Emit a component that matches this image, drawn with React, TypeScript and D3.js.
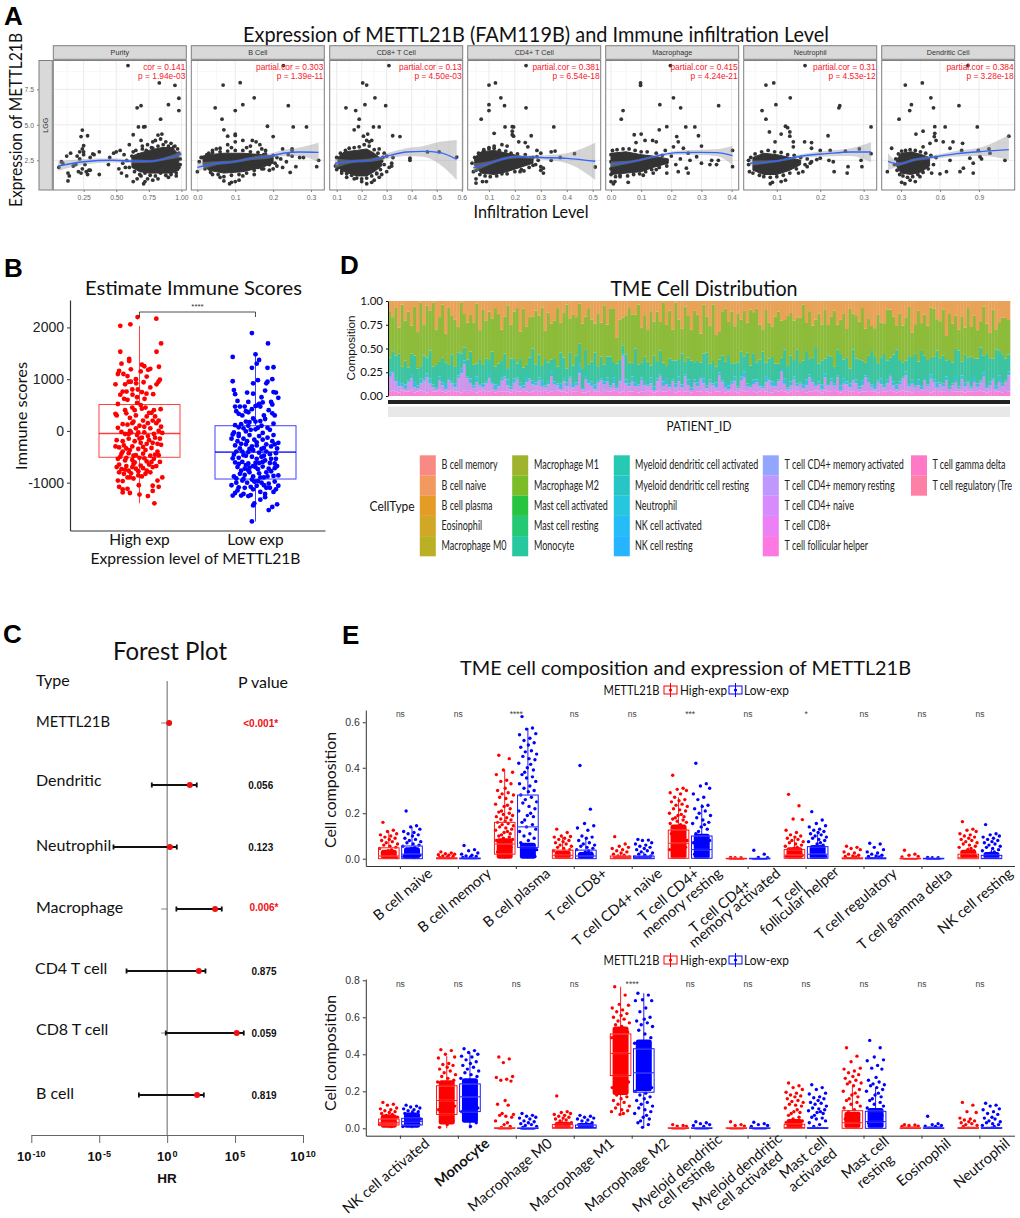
import * as d3 from 'd3';
import { useEffect, useRef } from 'react';

type Sel = d3.Selection<any, unknown, any, any>;

const SANS = 'Lato, sans-serif';
const ARIAL = '"Liberation Sans", Arial, sans-serif';

// Panel A: infiltration scatter
const facetNames = ['Purity', 'B Cell', 'CD8+ T Cell', 'CD4+ T Cell', 'Macrophage', 'Neutrophil', 'Dendritic Cell'];
const facetCor = ['cor = 0.141', 'partial.cor = 0.303', 'partial.cor = 0.13', 'partial.cor = 0.381', 'partial.cor = 0.415', 'partial.cor = 0.31', 'partial.cor = 0.384'];
const facetP = ['p = 1.94e-03', 'p = 1.39e-11', 'p = 4.50e-03', 'p = 6.54e-18', 'p = 4.24e-21', 'p = 4.53e-12', 'p = 3.28e-18'];
const facetTicks = [
  [0.25, 0.5, 0.75, 1], [0, 0.1, 0.2, 0.3], [0.1, 0.2, 0.3, 0.4, 0.5, 0.6], [0.1, 0.2, 0.3, 0.4, 0.5],
  [0, 0.1, 0.2, 0.3, 0.4], [0.1, 0.2, 0.3], [0.3, 0.6, 0.9],
];
const facetDomains = [[0.0174, 1.037], [-0.016, 0.335], [0.072, 0.604], [0.018, 0.531], [-0.0176, 0.4235], [0.0238, 0.33], [0.1515, 1.175]];
const facetLefts = [53.3, 191.3, 329.7, 467.7, 605.7, 743.7, 881.7];

const purityPts = [[.59,9.17],[.83,7.95],[.95,7.78],[.98,6.87],[.9,6.42],[.69,6.35],[.66,6.2],[.98,6],[.84,5.4],[.67,4.85],[.72,4.87],[.71,4.85],[.85,4.35],[.82,4.28],[.63,4.3],[.69,3.9],[.24,4.63],[.23,4.17],[.28,4.23],[.25,3.53],[.24,3.3],[.22,3.1],[.25,3.1],[.15,3],[.37,3.1],[.32,2.95],[.12,2.8],[.09,2.3],[.06,2],[.08,2.4],[.13,1.6],[.13,1.05],[.14,1.4],[.17,2.1],[.19,2.2],[.2,2.8],[.21,1.7],[.22,2.6],[.23,1.6],[.24,1.9],[.25,2.9],[.26,2.2],[.27,1.7],[.28,1.5],[.29,1.8],[.3,2.7],[.3,1.8],[.33,2.9],[.37,1.5],[.44,2.2],[.45,2.7],[.48,3],[.5,3.1],[.53,3.2],[.55,2.3],[.52,1.9],[.54,1.6],[.57,2],[.58,1.4],[.6,3.6],[.63,1],[.66,1.2],[.69,1.4],[.71,.85],[.72,1],[.74,1.2],[.78,1.1],[.63,3.1],[.7,3.5],[.74,3.6],[.78,3.8],[.8,3.9],[.84,4],[.88,3.8],[.92,3.7],[.95,3.5],[.77,3.4],[.98,2],[.96,1.4],[.9,1.3],[.82,1.2],[.6,2],[.62,2.8],[.64,1.7],[.65,3.2],[.67,2.9],[.68,1.5],[.7,3.3],[.72,1.6],[.73,3.2],[.76,1.45],[.78,3.35],[.8,1.4],[.82,3.5],[.84,1.6],[.86,3.6],[.88,1.45],[.9,3.5],[.92,1.5],[.94,3.45],[.96,1.6],[.97,3.3],[.99,2.2],[.99,2.6],[.98,3],[.58,2.5],[.56,2.9],[.66,2.1],[.95,1.8]];
const bCellPts = [[.227,9.17],[.113,7.97],[.068,7.8],[.15,6.9],[.1,6],[.047,6.2],[.12,6.42],[.24,6.35],[.065,5.4],[.185,4.9],[.253,4.85],[.288,4.85],[.07,4.65],[.1,4.35],[.1,4.25],[.08,4.2],[.145,3.9],[.155,3.8],[.2,4.17],[.165,3.6],[.12,3.9],[.1,3.8],[.25,3.3],[.25,3.2],[.225,3.3],[.28,2.7],[.27,2.7],[.25,2.8],[.32,2.5],[.315,2.05],[.245,1.65],[.26,2.05],[.225,2],[.205,2.3],[.2,1.9],[.19,1.8],[.21,2.7],[.18,3.2],[.17,3.3],[.19,2.5],[0,1.7],[.015,2.7],[.02,2.1],[.03,3],[.04,3.2],[.05,3.3],[.06,3.35],[.08,3.6],[.09,3.4],[.13,3.4],[.14,3.5],[.11,1.1],[.09,.95],[.1,1],[.085,.85],[.07,1.05],[.06,1.3],[.04,1.5],[.12,1.4],[.15,1.5],[.16,2],[.17,1.9],[.175,2.9],[.005,2.4],[.01,2.7],[.02,1.9],[.025,2.9],[.035,1.65],[.04,3.05],[.055,1.5],[.06,3.1],[.07,1.35],[.08,3.15],[.09,1.45],[.1,3.2],[.11,1.5],[.12,3.2],[.13,1.6],[.14,3.1],[.15,1.8],[.16,3.05],[.175,1.9],[.18,2.95],[.19,2.2],[.2,2.85],[.21,2.1],[.22,2.6],[.235,2.4],[.24,2.9],[.03,2.3],[.055,2.65]];
const cd8Pts = [[.309,9.17],[.204,7.95],[.22,7.8],[.253,6.9],[.213,6.42],[.296,6.35],[.137,6.2],[.176,6],[.19,5.4],[.187,4.87],[.17,4.65],[.247,4.85],[.27,4.85],[.224,4.35],[.324,4.23],[.353,4.17],[.207,4.2],[.24,3.9],[.22,3.9],[.23,3.8],[.27,3.3],[.29,3],[.3,2.8],[.325,2.7],[.32,2.3],[.32,2.1],[.393,2.65],[.393,2.5],[.463,3.09],[.51,3.09],[.58,2.73],[.1,1.85],[.11,2],[.12,1.6],[.14,1.3],[.17,1.2],[.2,1],[.22,.85],[.24,.95],[.25,1.1],[.27,1.3],[.28,1.5],[.26,1.6],[.3,1.7],[.31,2],[.095,2.1],[.1,2.7],[.105,2],[.115,3],[.12,1.75],[.135,3.2],[.14,1.55],[.15,3.35],[.16,1.45],[.17,3.4],[.18,1.25],[.19,3.45],[.2,1.2],[.21,3.6],[.22,1.25],[.23,3.5],[.24,1.4],[.25,3.25],[.26,1.55],[.265,3],[.275,1.85],[.285,2.7],[.29,2.2],[.28,2.45]];
const cd4Pts = [[.04,1.7],[.05,.9],[.05,1.2],[.075,1],[.09,1],[.07,5.4],[.1,6],[.1,6.42],[.1,7.8],[.125,7.95],[.146,6.9],[.16,6.35],[.162,4.85],[.12,4.4],[.195,4.85],[.195,4.2],[.243,9.17],[.243,6.2],[.19,4.87],[.19,4.55],[.19,4.3],[.263,4.23],[.35,4.85],[.215,3.8],[.24,3.75],[.25,3.45],[.285,3.2],[.3,3],[.355,3.15],[.34,3.1],[.34,2.5],[.375,2.7],[.43,2.97],[.51,2.03],[.3,2.05],[.31,1.95],[.31,1.6],[.3,1.8],[.27,2.15],[.235,1.75],[.22,1.7],[.26,2.65],[.285,2.75],[.1,3.3],[.12,3.5],[.08,3.2],[.15,3.6],[.17,3.5],[.035,2.3],[.045,2.7],[.05,1.8],[.06,3],[.065,1.5],[.08,3.25],[.085,1.4],[.1,3.4],[.105,1.35],[.12,3.35],[.13,1.4],[.14,3.2],[.15,1.55],[.165,3.15],[.17,1.55],[.185,3],[.2,1.7],[.21,2.95],[.225,1.85],[.24,2.9],[.255,2],[.27,2.7],[.28,2.2],[.29,2.5]];
const macroPts = [[.197,9.17],[.098,7.95],[.098,7.78],[.207,6.9],[.162,6.42],[.231,6.2],[.357,6.35],[.04,6],[.034,5.4],[.185,4.87],[.16,4.65],[.248,4.85],[.278,4.85],[.077,4.3],[.1,4.35],[.218,4.17],[.29,4.23],[.138,3.9],[.083,3.75],[.113,3.9],[.15,3.8],[.223,3.8],[.3,3.5],[.207,3.45],[.24,3.35],[.18,3.2],[.256,3],[.262,2.5],[.284,2.75],[.3,2.3],[.334,2.5],[.356,2.5],[.35,2.2],[.403,3.2],[.403,2.05],[.328,2.2],[.223,1.7],[.25,1.95],[.256,1.6],[.185,1.6],[.15,1.85],[.14,1.6],[.107,1.45],[.057,.95],[.03,1.35],[.013,1],[0,1],[.008,.85],[0,1.5],[0,1.9],[0,2.4],[0,2.9],[.005,3.2],[.015,1.35],[.02,3.25],[.03,1.45],[.04,3.3],[.055,1.4],[.06,3.3],[.075,1.5],[.08,3.2],[.095,1.55],[.1,3.1],[.115,1.7],[.12,3.1],[.135,1.85],[.15,3],[.16,2],[.17,2.85],[.185,2.1],[.2,2.8],[.215,2.2],[.23,2.6]];
const neutroPts = [[.165,9.17],[.093,7.95],[.075,7.8],[.131,6.9],[.098,6.42],[.066,6],[.075,5.4],[.245,6.35],[.243,6.2],[.12,4.9],[.125,4.8],[.13,4.5],[.317,4.85],[.11,4.35],[.083,4.5],[.218,4.23],[.13,4.2],[.138,3.8],[.164,3.8],[.18,3.75],[.096,3.8],[.138,3.45],[.18,3.35],[.2,3.2],[.223,3.2],[.258,3.15],[.29,3.3],[.317,2.97],[.294,2.5],[.296,2.05],[.264,2.05],[.262,1.6],[.232,1.7],[.22,2.5],[.23,2.4],[.192,2.55],[.177,2.3],[.17,2.05],[.16,1.7],[.15,1.6],[.12,1.1],[.11,1],[.09,.95],[.085,.85],[.037,1.7],[.035,2.5],[.2,2.65],[.035,2.2],[.04,2.7],[.045,1.6],[.05,2.95],[.06,1.45],[.065,3.1],[.07,1.35],[.08,3.2],[.085,1.3],[.095,3.1],[.1,1.35],[.11,3.05],[.115,1.45],[.125,2.9],[.13,1.6],[.14,2.85],[.145,1.9],[.155,2.7],[.165,2.2],[.17,2.6],[.18,2.4]];
const dendriticPts = [[.815,9.17],[.464,7.95],[.333,7.8],[.53,6.9],[.38,6.42],[.746,6.35],[.367,6],[.55,6.2],[.285,5.4],[.56,4.87],[.64,4.85],[.887,4.85],[1.13,4.2],[.56,4.4],[.415,4.35],[.47,4.55],[.556,4.17],[.57,3.9],[.625,3.8],[.7,3.8],[.774,3.7],[.523,3.7],[.47,3.45],[.677,3.35],[.767,3.2],[.895,3.2],[.977,3.3],[.985,3],[.908,2.75],[.92,2.6],[1.1,2.5],[.83,2.65],[.856,2.3],[.856,1.6],[.78,1.95],[.754,1.7],[.65,1.7],[.6,1.55],[.677,2.5],[.195,1.7],[.228,3.35],[.305,.95],[.33,.85],[.37,1.1],[.41,1],[.446,1.35],[.536,1.6],[.25,2.2],[.26,2.6],[.27,1.8],[.28,2.95],[.29,1.5],[.305,3.15],[.315,1.4],[.335,3.2],[.35,1.3],[.37,3.25],[.39,1.35],[.41,3.2],[.43,1.5],[.45,3.1],[.47,1.65],[.49,3],[.51,1.9],[.53,2.85],[.55,2.2],[.57,2.7]];
const facetPts = [purityPts, bCellPts, cd8Pts, cd4Pts, macroPts, neutroPts, dendriticPts];

// dense part of each cloud: x, low, high
const facetDense = [
  [[.62,2,2.8],[.68,1.7,3],[.75,1.6,3.2],[.85,1.6,3.4],[.93,1.6,3.4],[.98,1.8,2.9]],
  [[.015,2.2,2.8],[.03,1.8,2.9],[.07,1.6,3],[.12,1.7,3],[.17,2,2.9],[.2,2.3,2.8]],
  [[.105,2,2.7],[.13,1.7,3.1],[.18,1.4,3.2],[.22,1.4,3.3],[.25,1.7,3],[.28,2.1,2.6]],
  [[.045,2.1,2.7],[.07,1.6,3.1],[.12,1.5,3.2],[.17,1.7,3],[.22,2,2.8],[.27,2.3,2.6]],
  [[0,1.5,3],[.05,1.6,3.1],[.1,1.7,2.9],[.14,2,2.8],[.19,2.3,2.6]],
  [[.045,1.8,2.7],[.07,1.5,3],[.1,1.5,2.9],[.13,1.8,2.7],[.155,2.2,2.5]],
  [[.265,2.1,2.5],[.3,1.6,3],[.38,1.5,3.1],[.46,1.7,2.9],[.52,2.1,2.7]],
];
// smooth fit: x, low, mid, high
const facetFit = [
  [[.056,1.75,2.1,2.45],[.25,2.2,2.4,2.6],[.477,2.35,2.5,2.65],[.63,2.3,2.43,2.56],[.757,2.33,2.43,2.53],[.885,2.52,2.64,2.76],[1,2.7,2.92,3.14]],
  [[0,1.7,2,2.35],[.05,2.15,2.29,2.43],[.096,2.3,2.4,2.5],[.14,2.5,2.62,2.74],[.183,2.6,2.76,2.92],[.227,2.78,3,3.22],[.27,2.78,3.09,3.4],[.32,2.36,3.06,3.74]],
  [[.093,1.95,2.29,2.63],[.167,2.32,2.43,2.54],[.233,2.38,2.5,2.62],[.3,2.6,2.8,3],[.38,2.8,3.09,3.35],[.447,2.75,3.13,3.5],[.513,2.2,3.04,3.8],[.58,1.12,2.57,3.93]],
  [[.04,1.65,1.98,2.3],[.1,2.15,2.29,2.43],[.168,2.55,2.66,2.77],[.22,2.65,2.76,2.87],[.3,2.55,2.7,2.85],[.4,2.3,2.64,3],[.51,1.12,2.43,3.74]],
  [[0,2.02,2.22,2.42],[.074,2.33,2.43,2.53],[.15,2.7,2.8,2.9],[.218,2.9,3.04,3.18],[.295,2.88,3.06,3.24],[.35,2.8,3.04,3.28],[.403,2.17,2.83,3.53]],
  [[.038,2.1,2.29,2.48],[.1,2.37,2.45,2.53],[.158,2.66,2.8,2.94],[.215,2.77,2.97,3.17],[.27,2.8,3.09,3.35],[.317,2.36,3.09,3.77]],
  [[.2,1.8,2.43,2.99],[.29,2.12,2.24,2.36],[.395,2.42,2.52,2.62],[.55,2.6,2.73,2.86],[.73,2.77,2.97,3.17],[.933,2.8,3.13,3.46],[1.13,2.52,3.25,4.28]],
];

// Panel B: immune score, [jitter %, score]
const immuneGroups = ['High exp', 'Low exp'];
const immuneHigh = [[-8,2200],[70,2170],[-38,2060],[-80,2030],[90,1690],[71,1530],[-80,1530],[-43,1390],[-43,1350],[-75,1300],[10,1280],[20,1250],[81,1240],[-85,1160],[-36,1190],[36,1180],[45,1200],[-67,1100],[-90,1100],[-50,1060],[85,990],[-100,900],[-36,950],[-14,920],[17,940],[79,950],[71,900],[45,840],[-54,760],[-70,760],[29,720],[-7,800],[-29,700],[57,710],[-64,620],[21,620],[-90,520],[-50,600],[-10,540],[5,500],[-30,450],[-100,330],[-95,300],[-55,340],[-20,400],[10,430],[40,350],[60,400],[88,420],[-40,250],[-15,300],[30,280],[55,200],[70,150],[90,80],[-70,130],[-50,120],[-25,180],[0,100],[20,80],[45,50],[80,0],[-90,60],[-75,-20],[-60,-60],[-35,-30],[-10,-80],[10,-130],[35,-100],[60,-60],[-95,-180],[-70,-200],[-45,-150],[-20,-200],[5,-230],[30,-250],[55,-230],[90,-270],[-85,-320],[-55,-340],[-30,-300],[-5,-350],[25,-370],[50,-330],[75,-400],[-75,-440],[-45,-430],[-15,-470],[15,-440],[45,-480],[80,-470],[-90,-540],[-60,-570],[-30,-560],[0,-520],[30,-590],[60,-540],[85,-600],[-85,-650],[-55,-680],[-25,-640],[5,-670],[40,-650],[70,-680],[-75,-740],[-45,-770],[-15,-730],[15,-720],[55,-700],[-85,-800],[-65,-830],[-35,-820],[-5,-860],[25,-830],[95,-900],[-90,-960],[-70,-970],[-40,-900],[10,-880],[75,-960],[-85,-1080],[-70,-1130],[-50,-1120],[-3,-1050],[55,-1060],[80,-1080],[-70,-1190],[-40,-1200],[0,-1230],[55,-1160],[35,-1260],[62,-1400],[-80,700],[-60,400],[-30,150],[-45,-60],[15,200],[35,150],[65,-130],[75,-250],[-65,-280],[-40,-370],[0,-150],[20,-30],[-15,50],[50,350],[25,450],[-10,650],[10,750],[-55,-520],[-20,-610],[20,-530],[50,-600],[65,-460],[-30,-700],[-60,-750],[-5,-780],[30,-770],[45,-800],[-50,-900],[-25,-920],[-95,-700],[-80,-500],[-100,-300],[85,-150],[95,-40],[-40,0],[-5,-30],[40,-180],[15,-310],[-70,-400],[-25,-480],[65,280],[80,200],[-30,800],[-60,900],[-15,1000],[5,1150],[30,1050],[-45,950]];
const immuneLow = [[-15,1890],[52,1690],[-95,1430],[0,1480],[15,1370],[5,1300],[-15,1220],[50,1220],[75,1230],[-95,960],[70,1000],[-10,920],[10,980],[50,950],[45,920],[-90,790],[-85,710],[-35,740],[-10,720],[75,750],[85,740],[95,640],[65,560],[70,510],[-85,470],[-65,470],[-45,470],[-30,560],[0,480],[15,520],[30,550],[-80,380],[-70,330],[-40,380],[-30,360],[5,490],[20,470],[55,400],[70,340],[80,300],[-10,240],[20,190],[35,300],[-25,170],[-60,130],[-85,110],[-70,70],[-50,50],[-30,100],[0,30],[10,60],[25,100],[50,60],[-90,-30],[-95,-70],[-70,-100],[-50,-150],[-25,-80],[-5,-170],[15,-100],[30,-170],[50,-130],[70,-200],[95,-230],[-85,-280],[-60,-250],[-40,-260],[-15,-300],[5,-280],[35,-330],[65,-300],[90,-340],[-80,-400],[-55,-400],[-30,-410],[-10,-370],[15,-420],[45,-400],[60,-450],[85,-430],[-95,-530],[-70,-520],[-40,-480],[5,-540],[25,-500],[85,-540],[-85,-610],[-55,-600],[-30,-630],[-10,-680],[15,-620],[40,-570],[80,-630],[-75,-700],[-45,-730],[-25,-710],[0,-700],[30,-690],[55,-730],[90,-680],[-90,-880],[-65,-830],[-45,-850],[-25,-800],[-10,-880],[15,-820],[35,-900],[65,-780],[95,-860],[-100,-1050],[-80,-1000],[-55,-960],[-35,-1000],[-15,-940],[10,-970],[35,-1050],[55,-1020],[80,-980],[95,-1060],[-95,-1250],[-75,-1150],[-50,-1220],[-30,-1260],[-10,-1130],[20,-1180],[45,-1100],[75,-1180],[-85,-1200],[-10,-1440],[-5,-1400],[20,-1330],[40,-1280],[55,-1530],[70,-1470],[90,-1420],[-15,-1750],[-70,-60],[-40,-10],[-20,20],[30,-40],[60,20],[-100,-150],[-75,-200],[-35,-200],[5,-220],[45,-260],[75,-80],[-65,-340],[-25,-350],[25,-350],[80,-260],[-90,-460],[-50,-470],[-15,-500],[35,-480],[65,-540],[-70,-640],[-40,-660],[0,-620],[30,-600],[60,-620],[-60,-770],[-30,-760],[10,-740],[45,-800],[80,-720],[-80,-920],[-50,-930],[-5,-980],[20,-900],[50,-880],[75,-870],[-70,-1090],[-45,-1100],[-20,-1080],[5,-1060],[25,-1000],[60,-1100],[85,-1130],[-60,-1250],[-20,-1240],[40,-1220],[-40,180],[0,180],[40,230],[75,140],[-55,300],[-15,420],[-75,580],[25,650],[40,780]];
// low whisker, q1, median, q3, high whisker
const immuneBoxes = [[-1400, -510, -50, 510, 2030], [-1750, -930, -410, 100, 1480]];

// Panel C: forest plot, log10 of HR
const forestRows = ['METTL21B', 'Dendritic', 'Neutrophil', 'Macrophage', 'CD4 T cell', 'CD8 T cell', 'B cell'];
const forestMid = [0.147, 1.67, 0.2, 3.53, 2.33, 5.12, 2.2];
const forestLow = [0.1, -1.13, -3.95, 0.68, -2.99, -0.1, -2.08];
const forestHigh = [0.2, 2.18, 0.71, 4.02, 2.82, 5.64, 2.7];
const forestP = ['<0.001*', '0.056', '0.123', '0.006*', '0.875', '0.059', '0.819'];
const forestExp = [-10, -5, 0, 5, 10];

// Panel D: stacked composition per patient (percent)
const stackPink = [5,6,5,4,6,5,5,6,4,5,6,5,4,6,5,5,6,5,4,5,6,5,5,4,6,5,6,5,4,5,6,5,5,6,4,5,5,6,5,4,6,5,5,6,5,4,5,6,5,5,6,4,5,5,6,5,5,4,6,5,5,6,5,4,5,6,5,5,4,6,5,5,6,5,4,5,6,5,5,6,4,5,5,6,5,4,5,6,5,5,6,5,4,5,6,5,5,4,6,5,5,6,5,4,6,5,5,6,4,5,6,5,4,6,5,5,6,5,4,5,6,5,5,4,6,5,6,5,4,5,6,5,5,6,4,5,5,6,5,4,6,5,5,6,5,4,5,6,5,5,6,4,5,5,6,5,5,4,6,5,5,6,5,4,5,6,5,5,4,6,5,5,6,5,4,5,6,5,5,6,4,5,5,6,5,4,5,6,5,5,6,5,4,5,6,5,5,4,6,5];
const stackPurple = [16,20,12,7,5,3,10,14,6,4,8,12,17,9,5,3,11,7,4,13,8,5,16,22,28,18,9,5,12,7,4,10,15,8,3,6,12,17,7,4,9,14,6,3,11,16,8,5,13,7,4,10,18,9,6,3,12,7,15,5,8,11,4,14,9,6,3,10,16,7,12,5,8,4,13,38,9,6,11,4,7,14,8,5,10,3,12,17,6,9,4,13,7,11,5,16,8,3,10,6,14,9,4,12,7,5,18,10,6,3,8,13,5,11,16,7,4,9,12,6,3,10,15,8,5,12,20,9,4,7,13,6,10,3,8,15,11,5,9,4,14,7,12,6,17,3,10,8,5,13,9,4,7,16,11,6,3,12,8,5,10,14,7,4,9,13,18,6,11,5,8,3,12,7,15,10,4,9,6,13,5,8,11,3,14,7,10,4,12,6,9,16,5,8,13,3,11,7,10,19];
const stackBlue = [5,3,4,6,3,5,2,4,7,3,5,2,4,6,3,2,5,3,7,4,2,5,3,6,4,2,5,3,7,2,4,3,5,2,6,3,4,2,7,3,5,2,4,3,6,2,5,3,4,7,2,3,5,4,2,6,3,4,2,5,3,7,2,4,3,5,6,2,3,4,5,2,7,3,4,2,5,3,6,4,2,3,5,2,7,4,3,2,5,6,3,2,4,5,3,2,7,3,4,5,2,6,3,4,2,5,3,2,7,4,3,5,2,4,6,3,2,5,3,4,2,7,3,5,4,2,3,6,2,5,4,3,2,5,7,3,4,2,3,6,5,2,4,3,2,5,7,3,4,2,5,3,6,2,4,3,5,2,7,3,4,2,5,6,3,2,4,3,5,2,7,4,3,2,5,3,6,2,4,5,3,2,7,3,4,5,2,3,6,4,2,5,3,4,2,5,7,3,2,4];
const stackTeal = [16,21,26,31,18,27,15,24,29,19,14,28,18,34,20,25,16,28,24,14,31,19,26,17,14,22,31,25,15,29,21,27,16,35,20,24,18,29,13,33,23,16,28,21,14,26,36,19,27,17,30,23,14,28,19,36,25,16,27,20,32,15,26,29,18,24,38,15,28,19,25,33,17,27,21,10,30,24,15,34,23,17,29,26,14,36,19,27,21,15,31,24,28,18,38,14,26,32,21,25,16,29,39,19,27,18,14,30,25,35,21,16,28,26,17,37,24,31,20,27,41,15,25,29,22,18,12,34,26,30,19,38,24,28,32,17,25,40,21,30,16,33,26,19,31,37,23,28,17,35,25,32,22,14,28,40,33,20,26,36,23,18,31,42,25,16,12,33,28,38,22,43,26,30,18,24,39,29,33,20,35,25,31,45,16,32,26,40,22,30,36,18,38,28,23,43,29,34,26,20];
const stackGreen = [50,38,55,30,68,45,62,32,56,41,70,35,58,48,72,40,50,60,33,66,44,55,30,58,36,48,42,52,70,34,62,46,55,38,66,58,35,47,72,40,53,63,30,68,44,50,36,56,46,70,32,60,42,48,66,34,52,72,40,58,45,30,62,37,64,50,35,56,44,68,38,54,60,32,47,30,46,62,55,34,68,42,50,36,64,40,58,33,66,48,56,38,70,44,30,60,50,36,62,54,32,58,42,46,68,35,30,52,64,38,60,44,56,34,50,36,66,48,62,40,26,58,46,36,54,60,40,34,60,50,46,36,56,66,32,52,38,30,58,44,54,36,48,66,30,40,56,34,68,42,52,44,60,38,46,30,34,56,42,36,60,50,44,28,54,40,48,58,30,36,62,34,48,42,56,52,38,44,54,30,60,46,38,26,50,32,56,40,52,34,28,54,36,30,58,24,32,42,48,40];
const stackOrange = [12,18,8,30,4,22,12,28,6,35,2,28,5,12,2,32,18,4,38,8,16,22,30,2,14,28,16,26,3,34,10,24,12,20,8,15,32,20,5,28,12,8,35,9,30,20,18,10,17,8,34,14,26,24,8,25,14,4,20,16,19,2,31,17,8,22,27,14,28,5,28,9,8,44,22,18,18,8,15,14,4,31,17,33,12,24,12,24,2,28,11,35,2,20,34,6,18,34,12,16,36,4,18,30,4,38,34,12,9,24,12,30,15,20,11,26,10,13,9,27,33,10,28,30,18,12,21,22,18,14,23,19,21,4,25,11,29,20,15,29,9,28,19,11,28,22,16,33,9,15,17,24,8,31,21,30,32,16,26,26,10,9,18,30,15,27,18,7,39,28,12,27,16,30,7,8,22,24,10,43,17,27,17,36,18,31,8,35,18,35,23,6,27,38,10,34,24,19,20,22];
const stackKeys = ['pink', 'purple', 'blue', 'teal', 'green', 'orange'];
const stackColors = ['#f683da', '#cc96ea', '#3dbde0', '#3cc3a0', '#8dbb3a', '#e8a358'];
const stackTicks = [0, 25, 50, 75, 100];

const cellTypes = [
  ['B cell memory', 'B cell naive', 'B cell plasma', 'Eosinophil', 'Macrophage M0'],
  ['Macrophage M1', 'Macrophage M2', 'Mast cell activated', 'Mast cell resting', 'Monocyte'],
  ['Myeloid dendritic cell activated', 'Myeloid dendritic cell resting', 'Neutrophil', 'NK cell activated', 'NK cell resting'],
  ['T cell CD4+ memory activated', 'T cell CD4+ memory resting', 'T cell CD4+ naive', 'T cell CD8+', 'T cell follicular helper'],
  ['T cell gamma delta', 'T cell regulatory (Tre'],
];
const cellColors = [
  ['#f8766d', '#ee8743', '#e08b00', '#c99800', '#afa100'],
  ['#8ea607', '#64b200', '#00ba20', '#00bf5a', '#00c08e'],
  ['#00bfa5', '#00bcbc', '#00bcd8', '#00b0f6', '#00a7ff'],
  ['#7f96ff', '#b385ff', '#cf78ff', '#e76bf3', '#fa62db'],
  ['#ff62bc', '#ff6a98'],
];

// Panel E: cell composition
const topCells = ['B cell naive', 'B cell memory', 'B cell plasma', 'T cell CD8+', 'T cell CD4+ naive', 'T cell CD4+ memory resting', 'T cell CD4+ memory activated', 'T cell follicular helper', 'T cell regulatory', 'T cell gamma delta', 'NK cell resting'];
const topStars = ['ns', 'ns', '****', 'ns', 'ns', '***', 'ns', '*', 'ns', 'ns', 'ns'];
const topLabels = [['B cell naive'], ['B cell memory'], ['B cell plasma'], ['T cell CD8+'], ['T cell CD4+ naive'], ['T cell CD4+', 'memory resting'], ['T cell CD4+', 'memory activated'], ['T cell', 'follicular helper'], ['T cell regulatory'], ['T cell gamma delta'], ['NK cell resting']];
const bottomCells = ['NK cell activated', 'Monocyte', 'Macrophage M0', 'Macrophage M1', 'Macrophage M2', 'Myeloid dendritic cell resting', 'Myeloid dendritic cell activated', 'Mast cell activated', 'Mast cell resting', 'Eosinophil', 'Neutrophil'];
const bottomStars = ['ns', 'ns', 'ns', 'ns', '****', 'ns', 'ns', 'ns', 'ns', 'ns', 'ns'];
const bottomLabels = [['NK cell activated'], ['Monocyte'], ['Macrophage M0'], ['Macrophage M1'], ['Macrophage M2'], ['Myeloid dendritic', 'cell resting'], ['Myeloid dendritic', 'cell activated'], ['Mast cell', 'activated'], ['Mast cell', 'resting'], ['Eosinophil'], ['Neutrophil']];

// [low whisker, q1, median, q3, high whisker]
const topBoxHigh = [[0,0,.012,.048,.12],[0,0,0,.004,.01],[0,.02,.065,.16,.39],[0,.002,.015,.038,.095],[0,0,.002,.012,.03],[0,.002,.068,.126,.27],[0,0,0,.002,.004],[0,.002,.016,.04,.1],[0,0,0,.004,.01],[0,0,0,.002,.004],[0,0,.004,.02,.05]];
const topBoxLow = [[0,0,.02,.056,.14],[0,0,0,.003,.008],[0,.05,.14,.28,.575],[0,0,.012,.038,.095],[0,0,.002,.012,.03],[0,.002,.04,.1,.24],[0,0,0,.002,.004],[0,.002,.02,.053,.12],[0,0,0,.004,.01],[0,0,0,.002,.003],[0,0,.002,.015,.04]];
const bottomBoxHigh = [[0,.018,.03,.05,.09],[0,.075,.15,.23,.39],[0,0,0,.003,.008],[0,0,.005,.02,.05],[.08,.285,.405,.51,.765],[0,0,0,.003,.006],[0,0,0,.003,.006],[0,0,.004,.022,.05],[0,0,.03,.095,.23],[0,0,0,.003,.006],[0,0,0,.004,.01]];
const bottomBoxLow = [[0,.018,.036,.054,.1],[0,.09,.17,.24,.41],[0,0,0,.002,.005],[0,0,.004,.018,.04],[.005,.195,.3,.43,.73],[0,0,0,.003,.006],[0,0,0,.003,.006],[0,0,0,.004,.01],[0,0,.036,.092,.22],[0,0,0,.003,.006],[0,0,0,.004,.01]];

// value below which the jittered points merge into a solid strip [low, high]
const topDenseHigh = [[0,.04],[0,.008],[0,.09],[0,.035],[0,.012],[0,.15],[0,.003],[0,.05],[0,.008],[0,.003],[0,.04]];
const topDenseLow = [[0,.05],[0,.006],[0,.07],[0,.03],[0,.012],[0,.11],[0,.003],[0,.06],[0,.008],[0,.003],[0,.03]];
const bottomDenseHigh = [[.003,.075],[.02,.26],[0,.004],[0,.035],[.18,.55],[0,.004],[0,.004],[0,.05],[0,.09],[0,.01],[0,.008]];
const bottomDenseLow = [[.003,.085],[.03,.27],[0,.003],[0,.028],[.2,.48],[0,.004],[0,.004],[0,.007],[0,.11],[0,.01],[0,.008]];

const topPtsHigh = [
  [.16,.125,.12,.11,.105,.1,.095,.09,.085,.08,.075,.07,.065,.06,.055,.05,.045,.04,.035,.03,.025,.02,.015,.01,.005],
  [.03,.025,.022,.02,.018,.015,.012,.01,.008,.006],
  [.455,.44,.39,.38,.37,.345,.34,.33,.31,.3,.29,.285,.28,.27,.265,.25,.24,.235,.23,.22,.21,.205,.2,.195,.19,.185,.18,.175,.17,.165,.16,.155,.15,.145,.14,.135,.13,.125,.12,.115,.11,.105,.1,.095,.09,.085,.08,.07,.06,.05,.04,.03,.02,.01],
  [.13,.115,.1,.098,.095,.09,.085,.08,.075,.07,.065,.06,.055,.05,.045,.04,.035,.03,.025,.02,.015,.01],
  [.097,.065,.055,.05,.045,.04,.035,.03,.025,.02,.015,.012,.008,.005],
  [.367,.31,.305,.3,.29,.285,.27,.26,.255,.25,.24,.235,.23,.22,.215,.21,.2,.195,.19,.185,.18,.175,.17,.165,.16,.155,.15,.14,.13,.12,.11,.1,.09,.08,.07,.06,.05,.04,.03,.02,.01],
  [.006,.005,.004],
  [.283,.233,.175,.172,.125,.115,.105,.1,.095,.09,.085,.08,.075,.07,.065,.06,.055,.05,.045,.04,.035,.03,.025,.02,.015,.01],
  [.055,.05,.045,.04,.03,.025,.02,.015,.012,.01,.008],
  [.037,.02,.015,.01,.008],
  [.163,.13,.125,.12,.11,.105,.1,.095,.09,.085,.08,.075,.07,.065,.06,.055,.05,.045,.04,.035,.03,.025,.02,.015,.01],
];
const topPtsLow = [
  [.21,.145,.14,.13,.12,.115,.11,.105,.1,.09,.085,.08,.075,.07,.065,.06,.055,.05,.045,.04,.035,.03,.025,.02,.015,.01,.005],
  [.058,.04,.035,.025,.02,.015,.012,.01,.008,.006],
  [.625,.575,.57,.55,.545,.53,.52,.51,.5,.49,.475,.47,.46,.45,.44,.435,.42,.415,.4,.39,.38,.37,.36,.355,.34,.33,.32,.31,.3,.295,.28,.27,.26,.25,.245,.23,.22,.21,.2,.19,.185,.17,.16,.15,.14,.13,.12,.11,.1,.09,.08,.07,.06,.05,.04,.03,.02,.01],
  [.41,.218,.155,.145,.135,.125,.1,.095,.09,.08,.07,.065,.06,.055,.05,.045,.04,.035,.03,.025,.02,.015,.01],
  [.085,.082,.08,.07,.065,.06,.055,.05,.045,.04,.035,.03,.025,.02,.015,.012,.008,.005],
  [.42,.33,.32,.31,.285,.27,.26,.235,.23,.22,.21,.2,.19,.18,.17,.16,.155,.15,.14,.13,.12,.11,.1,.09,.08,.07,.06,.05,.04,.03,.02,.01],
  [.037,.02,.006,.005],
  [.207,.17,.155,.145,.14,.13,.125,.12,.115,.11,.105,.1,.095,.09,.085,.08,.075,.07,.065,.06,.05,.04,.03,.02,.01],
  [.068,.065,.05,.04,.03,.025,.02,.015,.012,.01,.008],
  [.006,.005,.004],
  [.15,.11,.105,.1,.095,.09,.085,.08,.075,.07,.065,.06,.055,.05,.045,.04,.035,.03,.025,.02,.015,.01],
];
const bottomPtsHigh = [
  [.14,.13,.125,.11,.105,.1,.095,.09,.085,.08,.075,.07,.06,.05,.04,.03,.02,.01],
  [.425,.42,.4,.385,.38,.35,.345,.34,.33,.32,.31,.3,.29,.28,.27,.26,.25,.24,.23,.22,.2,.18,.16,.14,.12,.1,.08,.06,.04,.02,.005],
  [.385,.375,.355,.28,.275,.265,.26,.255,.15,.13,.125,.08,.075,.07,.065,.06,.04,.03,.02,.01,.005],
  [.175,.09,.085,.08,.075,.07,.065,.06,.055,.05,.045,.04,.03,.02,.01],
  [.765,.72,.67,.665,.65,.64,.63,.62,.61,.6,.59,.58,.57,.56,.55,.52,.49,.46,.43,.4,.37,.34,.31,.28,.25,.22,.2,.18,.17,.16,.15,.14,.13,.12,.11,.1,.095,.09,.08,.075],
  [.02,.015,.012,.01],
  [.035,.02,.015,.012],
  [.245,.23,.22,.21,.195,.19,.18,.175,.17,.16,.15,.145,.14,.13,.125,.12,.11,.1,.09,.085,.08,.07,.06,.05,.04,.03,.02,.01],
  [.435,.39,.36,.325,.32,.31,.3,.29,.28,.27,.26,.25,.245,.24,.23,.21,.2,.19,.18,.17,.16,.15,.14,.13,.12,.11,.1,.09,.08,.07,.05,.03,.01],
  [.02,.018,.015,.012,.01],
  [.14,.125,.09,.085,.055,.05,.045,.04,.035,.03,.025,.02,.015,.01],
];
const bottomPtsLow = [
  [.125,.12,.115,.11,.105,.1,.095,.09,.085,.08,.07,.06,.05,.04,.03,.02,.01],
  [.43,.42,.41,.4,.39,.385,.37,.36,.35,.34,.33,.32,.31,.3,.29,.28,.27,.25,.23,.21,.19,.17,.15,.13,.11,.09,.07,.05,.03,.01],
  [.08,.07,.065,.06,.055,.05,.04,.035,.03,.025,.02,.015,.01,.005],
  [.07,.065,.06,.055,.05,.045,.04,.03,.025,.02,.015,.01],
  [.73,.72,.695,.69,.69,.65,.63,.6,.59,.58,.57,.56,.55,.53,.51,.49,.46,.43,.4,.37,.34,.31,.28,.25,.22,.2,.19,.18,.17,.16,.15,.14,.13,.12,.11,.1,.09,.08,.07,.06,.05,.04,.03,.02,.005],
  [.035,.03,.025,.02,.015,.01],
  [.033,.025,.02,.015,.01],
  [.235,.22,.21,.19,.185,.17,.165,.16,.15,.14,.135,.13,.12,.11,.105,.1,.095,.09,.085,.08,.07,.06,.055,.05,.04,.03,.02,.01],
  [.475,.435,.385,.37,.365,.34,.325,.32,.275,.26,.25,.24,.235,.23,.22,.21,.2,.19,.18,.17,.16,.15,.14,.13,.12,.11,.1,.09,.07,.05,.03,.01],
  [.065,.025,.02,.015,.012,.01],
  [.135,.125,.12,.105,.1,.09,.08,.075,.06,.055,.05,.04,.035,.03,.025,.02,.015,.01],
];
// hand-placed horizontal spread of the points inside a strip, in percent
const spread = [-62, 48, -14, 83, -88, 21, -41, 66, 5, -75, 37, -27, 92, -53, 12, 74, -96, 29, -6, 58, -34];

function label(g: Sel, x: number, y: number, str: string, o: any = {}) {
  const t = g.append('text').attr('x', x).attr('y', y).text(str)
    .attr('font-family', o.family ?? SANS)
    .attr('font-size', o.size ?? 12)
    .attr('fill', o.fill ?? '#111')
    .attr('text-anchor', o.anchor ?? 'start');
  if (o.weight) t.attr('font-weight', o.weight);
  if (o.rotate !== undefined) t.attr('transform', `rotate(${o.rotate},${x},${y})`);
  if (o.width) t.attr('textLength', o.width).attr('lengthAdjust', 'spacingAndGlyphs');
  return t;
}

function styleAxis(ax: Sel, color: string, textColor: string, size: number) {
  ax.selectAll('path').attr('stroke', color);
  ax.selectAll('line').attr('stroke', color);
  ax.selectAll('text').attr('fill', textColor).attr('font-family', ARIAL).attr('font-size', size);
}

function drawInfiltration(svg: Sel) {
  label(svg, 243, 42, 'Expression of METTL21B (FAM119B) and Immune infiltration Level', { size: 21, width: 586 });
  label(svg, 22, 120, 'Expression of METTL21B', { size: 17.5, anchor: 'middle', rotate: -90, width: 174 });
  label(svg, 531, 218, 'Infiltration Level', { size: 17, anchor: 'middle', width: 115 });

  const top = 60.5, bottom = 190, pw = 133;
  const y = d3.scaleLinear().domain([0.41, 9.53]).range([bottom, top]);

  // LGG strip
  svg.append('rect').attr('x', 39).attr('y', top).attr('width', 13.3).attr('height', bottom - top).attr('fill', '#d9d9d9').attr('stroke', '#7f7f7f');
  label(svg, 48, (top + bottom) / 2, 'LGG', { size: 7, anchor: 'middle', rotate: -90, family: ARIAL, fill: '#333' });

  const yAxis = svg.append('g').attr('transform', 'translate(39,0)')
    .call(d3.axisLeft(y).tickValues([2.5, 5, 7.5]).tickSize(2).tickFormat(d3.format('.1f') as any));
  yAxis.select('.domain').remove();
  styleAxis(yAxis, '#7f7f7f', '#666', 6.8);

  facetNames.forEach((name, i) => {
    const left = facetLefts[i];
    const x = d3.scaleLinear().domain(facetDomains[i]).range([left, left + pw]);
    const g = svg.append('g');
    g.append('rect').attr('x', left).attr('y', 45.7).attr('width', pw).attr('height', 13.6).attr('fill', '#d9d9d9').attr('stroke', '#7f7f7f');
    label(g, left + pw / 2, 55, name, { size: 7.2, anchor: 'middle', family: ARIAL, fill: '#333' });

    const ticks = facetTicks[i];
    const step = ticks[1] - ticks[0];
    const minorX = d3.range(-1, ticks.length + 1).map((k) => ticks[0] + (k + 0.5) * step).filter((v) => v > facetDomains[i][0] && v < facetDomains[i][1]);
    g.selectAll('line.minorx').data(minorX).enter().append('line').attr('x1', (d) => x(d)).attr('x2', (d) => x(d)).attr('y1', top).attr('y2', bottom).attr('stroke', '#f2f2f2').attr('stroke-width', 0.6);
    g.selectAll('line.majorx').data(ticks).enter().append('line').attr('x1', (d) => x(d)).attr('x2', (d) => x(d)).attr('y1', top).attr('y2', bottom).attr('stroke', '#ebebeb').attr('stroke-width', 1);
    g.selectAll('line.minory').data([1.25, 3.75, 6.25, 8.75]).enter().append('line').attr('x1', left).attr('x2', left + pw).attr('y1', (d) => y(d)).attr('y2', (d) => y(d)).attr('stroke', '#f2f2f2').attr('stroke-width', 0.6);
    g.selectAll('line.majory').data([2.5, 5, 7.5]).enter().append('line').attr('x1', left).attr('x2', left + pw).attr('y1', (d) => y(d)).attr('y2', (d) => y(d)).attr('stroke', '#ebebeb').attr('stroke-width', 1);

    const dense = d3.area<number[]>().x((d) => x(d[0])).y0((d) => y(d[1])).y1((d) => y(d[2])).curve(d3.curveLinear);
    g.append('path').attr('d', dense(facetDense[i])!).attr('fill', '#333').attr('stroke', '#333').attr('stroke-width', 1);
    g.selectAll('circle').data(facetPts[i]).enter().append('circle')
      .attr('cx', (d) => x(d[0])).attr('cy', (d) => y(d[1])).attr('r', 1.9).attr('fill', '#333');

    const ribbon = d3.area<number[]>().x((d) => x(d[0])).y0((d) => y(d[1])).y1((d) => y(d[3])).curve(d3.curveMonotoneX);
    g.append('path').attr('d', ribbon(facetFit[i])!).attr('fill', '#999').attr('opacity', 0.42);
    const fit = d3.line<number[]>().x((d) => x(d[0])).y((d) => y(d[2])).curve(d3.curveMonotoneX);
    g.append('path').attr('d', fit(facetFit[i])!).attr('fill', 'none').attr('stroke', '#3366ff').attr('stroke-width', 1.4);

    label(g, left + pw - 1, 69.5, facetCor[i], { size: 8.4, anchor: 'end', family: ARIAL, fill: '#f8202a' });
    label(g, left + pw - 1, 78.5, facetP[i], { size: 8.4, anchor: 'end', family: ARIAL, fill: '#f8202a' });

    g.append('rect').attr('x', left).attr('y', top).attr('width', pw).attr('height', bottom - top).attr('fill', 'none').attr('stroke', '#7f7f7f');
    const fmt = i === 0 ? d3.format('.2f') : d3.format('.1f');
    const ax = g.append('g').attr('transform', `translate(0,${bottom})`)
      .call(d3.axisBottom(x).tickValues(ticks).tickSize(2).tickFormat(fmt as any));
    ax.select('.domain').remove();
    styleAxis(ax, '#7f7f7f', '#666', 6.8);
  });
}

function drawImmune(svg: Sel) {
  const x = d3.scaleBand().domain(immuneGroups).range([70, 325]).paddingInner(0).paddingOuter(0.099);
  const y = d3.scaleLinear().domain([-1925, 2530]).range([530.5, 300]);
  const colors = ['#ff0000', '#0000ff'];
  [immuneHigh, immuneLow].forEach((pts, k) => {
    const cx = x(immuneGroups[k])! + x.bandwidth() / 2;
    const g = svg.append('g');
    g.selectAll('circle').data(pts).enter().append('circle')
      .attr('cx', (d) => cx + d[0] * 0.24).attr('cy', (d) => y(d[1])).attr('r', 2.4).attr('fill', colors[k]);
    const [lo, q1, med, q3, hi] = immuneBoxes[k];
    const opts = (s: Sel) => s.attr('stroke', colors[k]).attr('fill', 'none').attr('stroke-opacity', 0.75);
    g.append('line').attr('x1', cx).attr('x2', cx).attr('y1', y(hi)).attr('y2', y(q3)).call(opts).attr('stroke-width', 1);
    g.append('line').attr('x1', cx).attr('x2', cx).attr('y1', y(q1)).attr('y2', y(lo)).call(opts).attr('stroke-width', 1);
    g.append('rect').attr('x', cx - 40.5).attr('width', 81).attr('y', y(q3)).attr('height', y(q1) - y(q3)).call(opts).attr('stroke-width', 1);
    g.append('line').attr('x1', cx - 40.5).attr('x2', cx + 40.5).attr('y1', y(med)).attr('y2', y(med)).call(opts).attr('stroke-width', 1.6);
  });

  const ya = svg.append('g').attr('transform', 'translate(70,0)')
    .call(d3.axisLeft(y).tickValues([-1000, 0, 1000, 2000]).tickSize(3).tickSizeOuter(0).tickFormat((d) => String(d)));
  styleAxis(ya, '#333', '#222', 14);
  ya.select('.domain').attr('stroke-width', 1.2);
  const xa = svg.append('g').attr('transform', 'translate(0,530.5)')
    .call(d3.axisBottom(x).tickSize(0).tickSizeOuter(0).tickFormat(() => ''));
  styleAxis(xa, '#333', '#222', 14);
  xa.select('.domain').attr('stroke-width', 1.2);

  immuneGroups.forEach((name) => label(svg, x(name)! + x.bandwidth() / 2, 545, name, { size: 15.5, anchor: 'middle' }));
  label(svg, 195.5, 564, 'Expression level of METTL21B', { size: 15.5, anchor: 'middle', width: 210 });
  label(svg, 193.5, 295, 'Estimate Immune Scores', { size: 20, anchor: 'middle', width: 217 });
  label(svg, 27, 416, 'Immune scores', { size: 15.5, anchor: 'middle', rotate: -90, width: 108 });

  const cxa = x(immuneGroups[0])! + x.bandwidth() / 2, cxb = x(immuneGroups[1])! + x.bandwidth() / 2;
  svg.append('path').attr('d', `M${cxa},317V312H${cxb}V317`).attr('fill', 'none').attr('stroke', '#222').attr('stroke-width', 0.8);
  label(svg, (cxa + cxb) / 2, 309, '****', { size: 8, anchor: 'middle', family: ARIAL, fill: '#333' });
}

function drawForest(svg: Sel) {
  const x = d3.scaleLog().domain([1e-10, 1e10]).range([31.3, 303]);
  const y = d3.scalePoint().domain(forestRows).range([723, 1095]);
  label(svg, 170, 660, 'Forest Plot', { size: 25, anchor: 'middle', width: 114 });
  label(svg, 36, 686, 'Type', { size: 16 });
  label(svg, 238, 688, 'P value', { size: 16 });
  const labelDy = [4, 1, 4, 4, 3, 2, 4];
  const labelDx = [36, 36, 36, 36, 35, 36, 36];
  const pDx = [260.7, 260.7, 260.7, 264, 264, 264, 264];
  const pWidth = [35, 25, 25, 29, 25, 25, 25];
  svg.append('line').attr('x1', x(1)).attr('x2', x(1)).attr('y1', 681).attr('y2', 1135).attr('stroke', '#666').attr('stroke-width', 1);
  forestRows.forEach((row, i) => {
    const cy = y(row)!;
    label(svg, labelDx[i], cy + labelDy[i], row, { size: 16, width: i === 0 ? 74 : undefined });
    const red = forestP[i].endsWith('*');
    label(svg, pDx[i], cy + 4 - (i === 3 ? 2 : 0), forestP[i], { size: 11.5, anchor: 'middle', family: ARIAL, weight: 700, fill: red ? '#f01010' : '#111', width: pWidth[i] });
    const lo = x(10 ** forestLow[i]), hi = x(10 ** forestHigh[i]), mid = x(10 ** forestMid[i]);
    if (i === 0 || i === 3 || i === 5) svg.append('line').attr('x1', x(1) - 6).attr('x2', x(1)).attr('y1', cy).attr('y2', cy).attr('stroke', '#666').attr('stroke-width', 0.8);
    if (i !== 0) {
      svg.append('path').attr('d', `M${lo},${cy - 2.5}V${cy + 2.5}M${lo},${cy}H${hi}M${hi},${cy - 2.5}V${cy + 2.5}`).attr('fill', 'none').attr('stroke', '#111').attr('stroke-width', 1.8);
    }
    svg.append('circle').attr('cx', mid).attr('cy', cy).attr('r', 3).attr('fill', '#f01010');
  });
  const ax = svg.append('g').attr('transform', 'translate(0,1135)')
    .call(d3.axisBottom(x).tickValues(forestExp.map((e) => 10 ** e)).tickSize(8).tickSizeOuter(0).tickFormat(() => ''));
  styleAxis(ax, '#666', '#111', 12);
  forestExp.forEach((e) => {
    const t = label(svg, x(10 ** e), 1161, '10', { size: 13, anchor: 'middle', family: ARIAL, weight: 700 });
    t.append('tspan').attr('dy', -4).attr('dx', 1).attr('font-size', 9).text(String(e));
  });
  label(svg, 167, 1183, 'HR', { size: 13.5, anchor: 'middle', family: ARIAL, weight: 700 });
}

function drawStack(svg: Sel) {
  label(svg, 704, 296, 'TME Cell Distribution', { size: 21, anchor: 'middle', width: 187 });
  const patients = d3.range(stackPink.length);
  const rows = patients.map((i) => ({
    id: i, pink: stackPink[i], purple: stackPurple[i], blue: stackBlue[i], teal: stackTeal[i], green: stackGreen[i], orange: stackOrange[i],
  }));
  const series = d3.stack<any>().keys(stackKeys).offset(d3.stackOffsetExpand)(rows);
  const x = d3.scaleBand<number>().domain(patients).range([388, 1010]).paddingInner(0);
  const y = d3.scaleLinear().domain([0, 1]).range([396, 301]);
  series.forEach((s, k) => {
    svg.append('g').selectAll('rect').data(s).enter().append('rect')
      .attr('x', (d: any) => x(d.data.id)!).attr('width', x.bandwidth() + 0.3)
      .attr('y', (d: any) => y(d[1])).attr('height', (d: any) => y(d[0]) - y(d[1]))
      .attr('fill', stackColors[k]);
  });
  const ya = svg.append('g').attr('transform', 'translate(388,0)')
    .call(d3.axisLeft(y.copy()).tickValues(stackTicks.map((v) => v / 100)).tickSize(2).tickSizeOuter(0).tickFormat(d3.format('.2f') as any));
  styleAxis(ya, '#111', '#111', 12);
  ya.selectAll('text').attr('font-family', SANS).attr('font-size', 11.5);
  svg.append('rect').attr('x', 388).attr('y', 400).attr('width', 622).attr('height', 4).attr('fill', '#222');
  svg.append('rect').attr('x', 388).attr('y', 406.5).attr('width', 622).attr('height', 10.5).attr('fill', '#e8e8e8');
  label(svg, 699, 431, 'PATIENT_ID', { size: 12.5, anchor: 'middle', width: 65 });
  label(svg, 355, 348, 'Composition', { size: 11, anchor: 'middle', rotate: -90, family: ARIAL, width: 65 });

  label(svg, 369.6, 511, 'CellType', { size: 13, width: 45 });
  const keyX = [419.8, 512.2, 613.8, 762.8, 911];
  const textX = [441.6, 534, 635, 784.6, 932.4];
  const keyY = d3.scaleBand<number>().domain(d3.range(5)).range([455.3, 556.3]);
  cellTypes.forEach((col, c) => {
    col.forEach((name, r) => {
      svg.append('rect').attr('x', keyX[c]).attr('y', keyY(r)!).attr('width', 16).attr('height', keyY.bandwidth()).attr('fill', cellColors[c][r]).attr('fill-opacity', 0.85);
      const cy = keyY(r)! + keyY.bandwidth() / 2 + 4;
      const g = svg.append('g').attr('transform', `translate(${textX[c]},${cy}) scale(0.72,1)`);
      label(g, 0, 0, name, { size: 12.5, fill: '#222' });
    });
  });
}

function drawComposition(svg: Sel, o: any) {
  const x = d3.scaleBand().domain(o.cells).range([365.8, 1014.5]).paddingInner(0).paddingOuter(0.097);
  const y = d3.scaleLinear().domain(o.domain).range(o.range);
  const colors = ['#ff0000', '#0000ff'];
  const offs = [-11.6, 11.6];
  [0, 1].forEach((k) => {
    const boxes = k === 0 ? o.boxHigh : o.boxLow;
    const dense = k === 0 ? o.denseHigh : o.denseLow;
    const pts = k === 0 ? o.ptsHigh : o.ptsLow;
    o.cells.forEach((cell: string, i: number) => {
      const cx = x(cell)! + x.bandwidth() / 2 + offs[k];
      const g = svg.append('g');
      const [d0, d1] = dense[i];
      g.append('rect').attr('x', cx - 8).attr('width', 16).attr('y', y(d1)).attr('height', Math.max(y(d0) - y(d1), 2)).attr('rx', 2.5).attr('fill', colors[k]);
      g.selectAll('circle').data(pts[i] as number[]).enter().append('circle')
        .attr('cx', (d, j) => cx + spread[j % spread.length] * 0.095).attr('cy', (d) => y(d)).attr('r', 1.7).attr('fill', colors[k]);
      const [lo, q1, med, q3, hi] = boxes[i];
      const line = (s: Sel) => s.attr('stroke', '#fff').attr('stroke-opacity', 0.4).attr('stroke-width', 1.6).attr('fill', 'none');
      const stroke = (s: Sel) => s.attr('stroke', colors[k]).attr('stroke-width', 0.9).attr('fill', 'none');
      g.append('line').attr('x1', cx).attr('x2', cx).attr('y1', y(hi)).attr('y2', y(q3)).call(stroke);
      g.append('line').attr('x1', cx).attr('x2', cx).attr('y1', y(q1)).attr('y2', y(lo)).call(stroke);
      g.append('rect').attr('x', cx - 10.3).attr('width', 20.6).attr('y', y(q3)).attr('height', Math.max(y(q1) - y(q3), 0.5)).call(line);
      g.append('rect').attr('x', cx - 10.3).attr('width', 20.6).attr('y', y(q3)).attr('height', Math.max(y(q1) - y(q3), 0.5)).call(stroke);
      g.append('line').attr('x1', cx - 10.3).attr('x2', cx + 10.3).attr('y1', y(med)).attr('y2', y(med)).call(line);
      g.append('line').attr('x1', cx - 10.3).attr('x2', cx + 10.3).attr('y1', y(med)).attr('y2', y(med)).call(stroke);
    });
  });

  const ya = svg.append('g').attr('transform', 'translate(365.8,0)')
    .call(d3.axisLeft(y).tickValues(o.ticks).tickSize(3).tickSizeOuter(0).tickFormat(d3.format('.1f') as any));
  styleAxis(ya, '#333', '#333', 10.5);
  const xa = svg.append('g').attr('transform', `translate(0,${o.range[0]})`)
    .call(d3.axisBottom(x).tickSize(3).tickSizeOuter(0).tickFormat(() => ''));
  styleAxis(xa, '#333', '#333', 10);

  o.cells.forEach((cell: string, i: number) => {
    const cx = x(cell)! + x.bandwidth() / 2;
    label(svg, cx, o.starY, o.stars[i], { size: 8.5, anchor: 'middle', family: ARIAL, fill: '#444' });
    o.labels[i].forEach((line: string, l: number) => {
      const [dx, ly] = o.labelEnds[i][l];
      label(svg, cx + dx, ly, line, { size: 14.5, anchor: 'end', rotate: -40, fill: '#111', weight: o.boldIndex === i ? 700 : undefined });
    });
  });
  label(svg, 336, o.titleY, 'Cell composition', { size: 16, anchor: 'middle', rotate: -90, width: 116 });

  // legend
  const ly = o.legendY;
  label(svg, 603.5, ly + 4.5, 'METTL21B', { size: 13, width: 56 });
  [['High-exp', 664, 680, 47], ['Low-exp', 729, 744, 45]].forEach(([name, kx, tx, w]: any, k) => {
    const c = colors[k];
    svg.append('rect').attr('x', kx).attr('y', ly - 4).attr('width', 13).attr('height', 8).attr('fill', 'none').attr('stroke', c);
    svg.append('line').attr('x1', kx + 6.5).attr('x2', kx + 6.5).attr('y1', ly - 7).attr('y2', ly + 7).attr('stroke', c);
    svg.append('circle').attr('cx', kx + 6.5).attr('cy', ly).attr('r', 1.6).attr('fill', c);
    label(svg, tx, ly + 4.5, name, { size: 13, width: w });
  });
}

function drawPanelLetters(svg: Sel) {
  const letters = [['A', 4, 25], ['B', 4, 277], ['C', 3, 643], ['D', 340, 274], ['E', 342, 644]];
  letters.forEach(([s, x, y]: any) => label(svg, x, y, s, { size: 26, family: ARIAL, weight: 700, fill: '#000' }));
}

export default function App() {
  const ref = useRef<SVGSVGElement | null>(null);

  useEffect(() => {
    const svg = d3.select(ref.current) as unknown as Sel;
    svg.selectAll('*').remove();
    svg.append('rect').attr('width', 1020).attr('height', 1218).attr('fill', '#fff');
    drawInfiltration(svg);
    drawImmune(svg);
    drawForest(svg);
    drawStack(svg);
    label(svg, 685.5, 675, 'TME cell composition and expression of METTL21B', { size: 19, anchor: 'middle', width: 451 });
    drawComposition(svg, {
      cells: topCells, stars: topStars, labels: topLabels, boxHigh: topBoxHigh, boxLow: topBoxLow,
      denseHigh: topDenseHigh, denseLow: topDenseLow, ptsHigh: topPtsHigh, ptsLow: topPtsLow,
      domain: [-0.032, 0.654], range: [866, 710], ticks: [0, 0.2, 0.4, 0.6], starY: 717, titleY: 790, legendY: 690,
      labelEnds: [[[33, 875]], [[34, 875]], [[35, 875]], [[34, 875]], [[31, 875]], [[10, 875], [33, 875]], [[3.5, 886], [33.5, 875]], [[-2, 888], [34, 873]], [[34, 875]], [[31, 875]], [[34, 875]]],
    });
    drawComposition(svg, {
      cells: bottomCells, stars: bottomStars, labels: bottomLabels, boxHigh: bottomBoxHigh, boxLow: bottomBoxLow,
      denseHigh: bottomDenseHigh, denseLow: bottomDenseLow, ptsHigh: bottomPtsHigh, ptsLow: bottomPtsLow,
      domain: [-0.04, 0.807], range: [1135.7, 979], ticks: [0, 0.2, 0.4, 0.6, 0.8], starY: 987, titleY: 1053, legendY: 960, boldIndex: 1,
      labelEnds: [[[30, 1145]], [[32, 1145]], [[37, 1145]], [[41, 1145]], [[38, 1145]], [[33, 1141], [24, 1166]], [[35, 1140], [36, 1158]], [[22, 1143], [32, 1155]], [[26, 1143], [31, 1161]], [[30, 1145]], [[31, 1145]]],
    });
    drawPanelLetters(svg);
  }, []);

  return <svg ref={ref} width={1020} height={1218} viewBox="0 0 1020 1218" style={{ position: 'absolute', left: 0, top: 0, display: 'block' }} />;
}
